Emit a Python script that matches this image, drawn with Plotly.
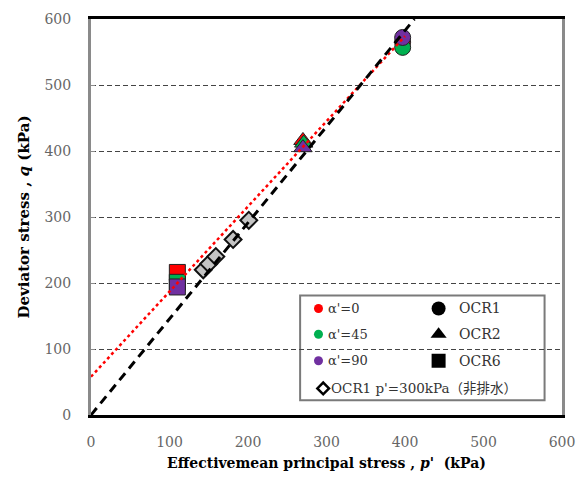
import plotly.graph_objects as go

# Measured points: (p', q) in kPa for each anisotropy angle and OCR
alpha_labels = ["α'=0", "α'=45", "α'=90"]
alpha_colors = ["#ff0000", "#00b050", "#7030a0"]

ocr1_p = [397, 397, 397]
ocr1_q = [565, 557, 572]
ocr2_p = [270, 271, 270]
ocr2_q = [416, 412, 405]
ocr6_p = [110, 110, 110]
ocr6_q = [216, 201, 194]

# Undrained OCR1 test, p'0 = 300 kPa
und_p = [143, 150, 159, 181, 201]
und_q = [220, 229, 240, 266, 295]

# Fitted lines (end points)
red_line_p = [0, 400]
red_line_q = [58, 574]
black_line_p = [0, 412]
black_line_q = [0, 600]

tick_vals = [0, 100, 200, 300, 400, 500, 600]

SERIF = "DejaVu Serif, Liberation Serif, Noto Sans CJK JP"

fig = go.Figure()

for i in range(3):
    fig.add_trace(go.Scatter(
        x=[ocr6_p[i]], y=[ocr6_q[i]], mode="markers", showlegend=False,
        marker=dict(symbol="square", size=16, color=alpha_colors[i],
                    line=dict(color="#222222", width=1))))
for i in range(3):
    fig.add_trace(go.Scatter(
        x=[ocr2_p[i]], y=[ocr2_q[i]], mode="markers", showlegend=False,
        marker=dict(symbol="triangle-up", size=16, color=alpha_colors[i],
                    line=dict(color="#222222", width=1))))
for i in range(3):
    fig.add_trace(go.Scatter(
        x=[ocr1_p[i]], y=[ocr1_q[i]], mode="markers", showlegend=False,
        marker=dict(symbol="circle", size=16, color=alpha_colors[i],
                    line=dict(color="#222222", width=1))))

fig.add_trace(go.Scatter(
    x=und_p, y=und_q, mode="markers", showlegend=False,
    marker=dict(symbol="diamond", size=13, color="#c4c4c4",
                line=dict(color="#111111", width=2))))

fig.add_trace(go.Scatter(
    x=red_line_p, y=red_line_q, mode="lines", showlegend=False,
    line=dict(color="#ff0000", width=2.5, dash="dot")))
fig.add_trace(go.Scatter(
    x=black_line_p, y=black_line_q, mode="lines", showlegend=False,
    line=dict(color="#000000", width=3, dash="9px,6px")))

# Legend symbols on an overlay axis spanning the plot area in [0, 1]
leg_rows = [0.269, 0.204, 0.137]
fig.add_trace(go.Scatter(
    x=[0.483] * 3, y=leg_rows, mode="markers", xaxis="x2", yaxis="y2",
    showlegend=False, marker=dict(symbol="circle", size=9, color=alpha_colors)))
fig.add_trace(go.Scatter(
    x=[0.738] * 3, y=leg_rows, mode="markers", xaxis="x2", yaxis="y2",
    showlegend=False,
    marker=dict(symbol=["circle", "triangle-up", "square"], size=14,
                color="#000000")))
fig.add_trace(go.Scatter(
    x=[0.493], y=[0.067], mode="markers", xaxis="x2", yaxis="y2",
    showlegend=False,
    marker=dict(symbol="diamond", size=9, color="#ffffff",
                line=dict(color="#000000", width=2.5))))

annotations = []
for lab, y in zip(alpha_labels, leg_rows):
    annotations.append(dict(x=0.499, y=y, xref="paper", yref="paper", text=lab,
                            showarrow=False, xanchor="left", yanchor="middle",
                            font=dict(family=SERIF, size=13, color="#333333")))
for lab, y in zip(["OCR1", "OCR2", "OCR6"], leg_rows):
    annotations.append(dict(x=0.778, y=y, xref="paper", yref="paper", text=lab,
                            showarrow=False, xanchor="left", yanchor="middle",
                            font=dict(family=SERIF, size=14, color="#333333")))
annotations.append(dict(x=0.506, y=0.067, xref="paper", yref="paper",
                        text="OCR1 p'=300kPa（非排水）", showarrow=False,
                        xanchor="left", yanchor="middle",
                        font=dict(family=SERIF, size=13.5, color="#333333")))

fig.update_layout(
    width=586, height=488,
    margin=dict(l=91, r=11, t=14, b=73),
    paper_bgcolor="white", plot_bgcolor="white",
    xaxis=dict(range=[0, 600], tickvals=tick_vals, showgrid=False,
               zeroline=False, showline=True, mirror=True,
               linecolor="#000000", linewidth=3, ticks="",
               ticklabelstandoff=12,
               tickfont=dict(family=SERIF, size=14, color="#666666"),
               title=dict(text="<b>Effectivemean principal stress , <i>p'</i>  (kPa)</b>",
                          font=dict(family=SERIF, size=14, color="#000000"),
                          standoff=10)),
    yaxis=dict(range=[0, 600], tickvals=tick_vals, showgrid=True,
               gridcolor="#444444", gridwidth=1, griddash="5px,3px",
               zeroline=False, showline=True, mirror=True,
               linecolor="#8a8a8a", linewidth=3, ticks="inside",
               ticklen=4, tickcolor="#8a8a8a", ticklabelstandoff=14,
               tickfont=dict(family=SERIF, size=14, color="#666666"),
               title=dict(text="<b>Deviator stress , <i>q</i> (kPa)</b>",
                          font=dict(family=SERIF, size=15, color="#000000"),
                          standoff=12)),
    xaxis2=dict(range=[0, 1], domain=[0, 1], anchor="y2", overlaying="x",
                visible=False, fixedrange=True),
    yaxis2=dict(range=[0, 1], domain=[0, 1], anchor="x2", overlaying="y",
                visible=False, fixedrange=True),
    shapes=[dict(type="rect", xref="paper", yref="paper",
                 x0=0.444, x1=0.963, y0=0.037, y1=0.302,
                 fillcolor="white", line=dict(color="#7a7a7a", width=2),
                 layer="between")],
    annotations=annotations,
)

fig.write_html("out.html")
